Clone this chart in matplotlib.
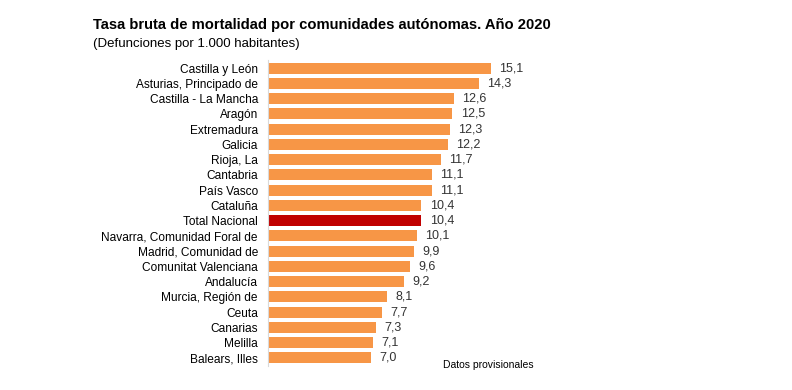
import numpy as np
import matplotlib.pyplot as plt

plt.rcParams['font.family'] = ['Liberation Sans', 'DejaVu Sans']

regiones = ['Castilla y León', 'Asturias, Principado de', 'Castilla - La Mancha',
            'Aragón', 'Extremadura', 'Galicia', 'Rioja, La', 'Cantabria',
            'País Vasco', 'Cataluña', 'Total Nacional',
            'Navarra, Comunidad Foral de', 'Madrid, Comunidad de',
            'Comunitat Valenciana', 'Andalucía', 'Murcia, Región de', 'Ceuta',
            'Canarias', 'Melilla', 'Balears, Illes']
tasas = [15.1, 14.3, 12.6, 12.5, 12.3, 12.2, 11.7, 11.1, 11.1, 10.4, 10.4,
         10.1, 9.9, 9.6, 9.2, 8.1, 7.7, 7.3, 7.1, 7.0]

naranja = '#F79646'
rojo = '#C00000'
colores = [rojo if r == 'Total Nacional' else naranja for r in regiones]

fig = plt.figure(figsize=(7.92, 3.9), dpi=100)
ax = fig.add_axes([0.338, 0.0626, 0.336, 0.7824])

y = np.arange(len(regiones))
ax.barh(y, tasas, height=0.72, color=colores)
ax.set_ylim(len(regiones) - 0.5, -0.5)
ax.set_xlim(0, 18)

for yi, v in zip(y, tasas):
    ax.annotate(f'{v:.1f}'.replace('.', ','), (v, yi), xytext=(6, 0),
                textcoords='offset points', va='center', ha='left',
                fontsize=9, color='#333333')

ax.set_yticks(y)
ax.set_yticklabels(regiones, fontsize=8.6)
ax.tick_params(axis='y', length=0, pad=7)
ax.set_xticks([])
for s in ['top', 'right', 'bottom']:
    ax.spines[s].set_visible(False)
ax.spines['left'].set_color('#d9d9d9')
ax.spines['left'].set_linewidth(0.8)

fig.text(93 / 792, 1 - 25 / 390, 'Tasa bruta de mortalidad por comunidades autónomas. Año 2020',
         fontsize=10.6, fontweight='bold', va='center', ha='left')
fig.text(93 / 792, 1 - 44 / 390, '(Defunciones por 1.000 habitantes)',
         fontsize=9.5, va='center', ha='left')
fig.text(443 / 792, 1 - 365 / 390, 'Datos provisionales',
         fontsize=7.5, va='center', ha='left')

fig.savefig('out.png', dpi=100)
